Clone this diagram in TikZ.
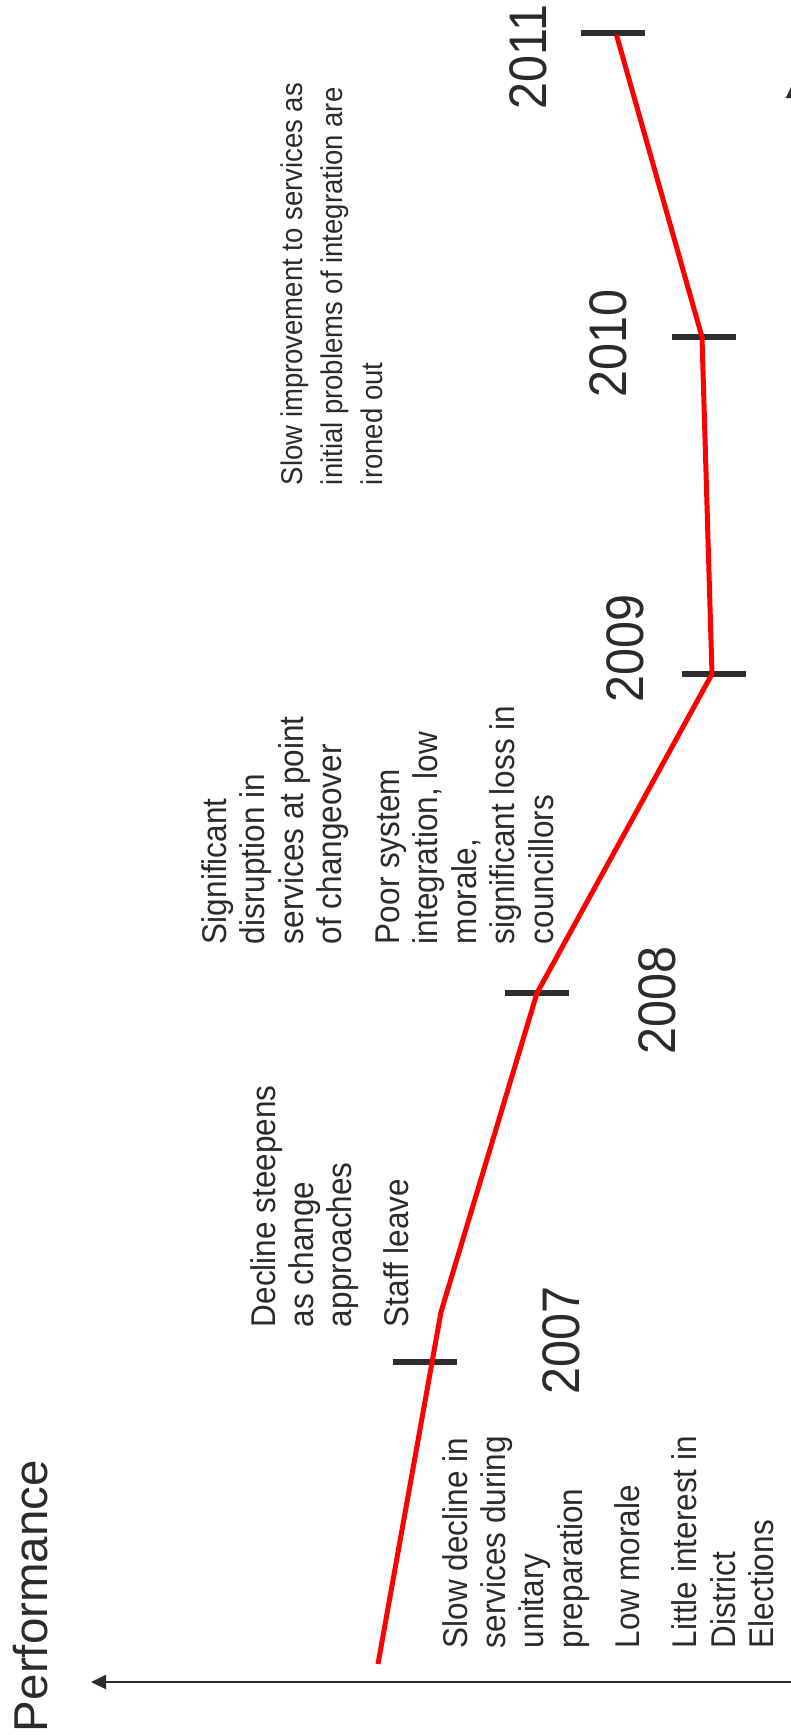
\documentclass[tikz,border=0pt]{standalone}
\usepackage{fontspec}
\setmainfont{Liberation Sans}
\usetikzlibrary{arrows.meta}
\definecolor{txt}{HTML}{2B2B2B}
\definecolor{tickcol}{HTML}{2D2D2D}
\begin{document}
\begin{tikzpicture}[x=1pt,y=-1pt,
  lbl/.style={rotate=90, yscale=1.09, anchor=base west, inner sep=0pt, outer sep=0pt, text=txt, font=\fontsize{31.5}{38}\selectfont},
  lbld/.style={lbl, font=\fontsize{27.5}{39}\selectfont},
  yearlbl/.style={lbl, font=\fontsize{48.5}{58}\selectfont},
  titlelbl/.style={rotate=90, anchor=base west, inner sep=0pt, outer sep=0pt, text=txt, font=\fontsize{47.5}{57}\selectfont},
  tickbar/.style={rectangle, fill=tickcol, draw=none, minimum width=64pt, minimum height=6pt, inner sep=0pt, outer sep=0pt},
  series/.style={draw=red, line width=5pt, line join=miter},
  axisline/.style={draw=txt, line width=2pt, -{Triangle[length=15pt,width=14pt]}}]
\useasboundingbox (0,0) rectangle (791,1735);
\clip (0,0) rectangle (791,1735);

% axes
\coordinate (origin) at (793,1682);
\coordinate (xend) at (91,1682);
\coordinate (yend) at (793,83);
\draw[axisline] (origin) -- (xend);
\draw[axisline] (origin) -- (yend);

% year ticks
\node[tickbar] (tk2007) at (425,1362) {};
\node[tickbar] (tk2008) at (537,993) {};
\node[tickbar] (tk2009) at (713.5,674) {};
\node[tickbar] (tk2010) at (704,337) {};
\node[tickbar] (tk2011) at (613,33) {};

% performance series
\coordinate (r0) at (378,1664);
\coordinate (rb) at (441,1312);
\coordinate (r2008) at (537,993);
\coordinate (r2009) at (712,674);
\coordinate (r2010) at (702,337);
\coordinate (r2011) at (616.5,35);
\draw[series] (r0) -- (rb) -- (r2008) -- (r2009) -- (r2010) -- (r2011);

% axis title
\node[titlelbl] (perf) at (47,1732) {Performance};

% years
\node[yearlbl] (y2007) at (579,1394) {2007};
\node[yearlbl] (y2008) at (675,1054) {2008};
\node[yearlbl] (y2009) at (643,702) {2009};
\node[yearlbl] (y2010) at (626,397) {2010};
\node[yearlbl] (y2011) at (546,109) {2011};

% block A
\node[lbl] (a1) at (467,1648) {Slow decline in};
\node[lbl] (a2) at (505.3,1648) {services during};
\node[lbl] (a3) at (543.6,1648) {unitary};
\node[lbl] (a4) at (582,1648) {preparation};
\node[lbl] (a5) at (639.4,1648) {Low morale};
\node[lbl] (a6) at (696.9,1648) {Little interest in};
\node[lbl] (a7) at (735.2,1648) {District};
\node[lbl] (a8) at (773.5,1648) {Elections};

% block B
\node[lbl] (b1) at (275,1327) {Decline steepens};
\node[lbl] (b2) at (313,1327) {as change};
\node[lbl] (b3) at (351,1327) {approaches};
\node[lbl] (b4) at (408,1327) {Staff leave};

% block C
\node[lbl] (c1) at (226,944) {Significant};
\node[lbl] (c2) at (264.5,944) {disruption in};
\node[lbl] (c3) at (303,944) {services at point};
\node[lbl] (c4) at (341.5,944) {of changeover};
\node[lbl] (c5) at (399,944) {Poor system};
\node[lbl] (c6) at (437.5,944) {integration, low};
\node[lbl] (c7) at (476,944) {morale,};
\node[lbl] (c8) at (514.5,944) {significant loss in};
\node[lbl] (c9) at (553,944) {councillors};

% block D
\node[lbld] (d1) at (302,485) {Slow improvement to services as};
\node[lbld] (d2) at (342,485) {initial problems of integration are};
\node[lbld] (d3) at (382,485) {ironed out};
\end{tikzpicture}
\end{document}
